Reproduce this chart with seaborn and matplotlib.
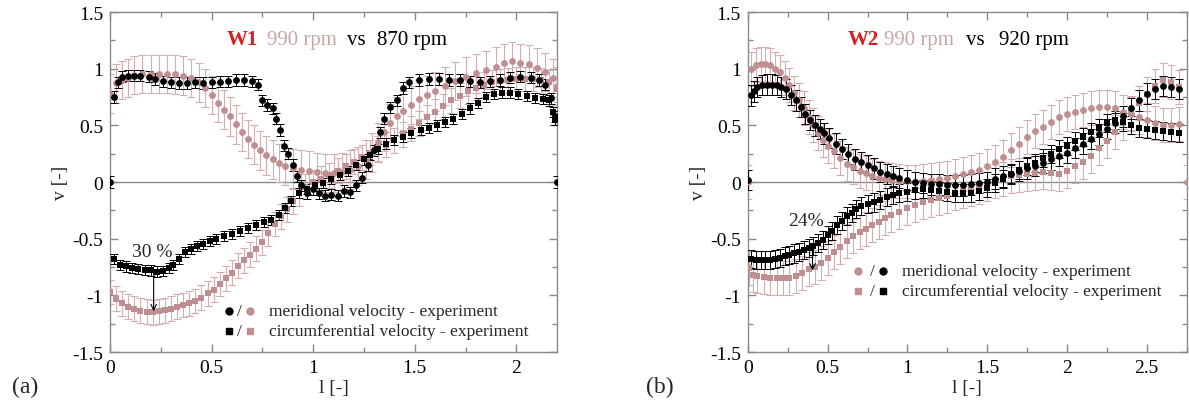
import numpy as np
import pandas as pd
import matplotlib
matplotlib.use("Agg")
import matplotlib.pyplot as plt
import seaborn as sns
from matplotlib.ticker import MultipleLocator, FixedLocator, FixedFormatter

sns.set_style("ticks")
plt.rcParams['font.family'] = ['Liberation Serif', 'DejaVu Serif']
plt.rcParams['axes.unicode_minus'] = False

# ---------------- W1 panel (a): 990 rpm (pink) vs 870 rpm (black) ----------------
w1_blk_mer_x = [0, 0.02, 0.04, 0.06, 0.09, 0.12, 0.15, 0.19, 0.22, 0.26, 0.30, 0.34, 0.38, 0.42, 0.46, 0.50,
                0.54, 0.58, 0.62, 0.66, 0.70, 0.73, 0.75, 0.775, 0.80, 0.815, 0.835, 0.855, 0.875, 0.90, 0.92,
                0.94, 0.97, 1.00, 1.03, 1.06, 1.09, 1.12, 1.15, 1.18, 1.21, 1.24, 1.27, 1.30, 1.33, 1.35, 1.38,
                1.41, 1.44, 1.47, 1.52, 1.57, 1.62, 1.67, 1.72, 1.77, 1.82, 1.87, 1.92, 1.97, 2.02, 2.07, 2.11,
                2.14, 2.17, 2.19, 2.2]
w1_blk_mer_y = [0, 0.75, 0.88, 0.93, 0.94, 0.94, 0.94, 0.93, 0.91, 0.89, 0.88, 0.875, 0.875, 0.88, 0.875, 0.88,
                0.885, 0.89, 0.9, 0.9, 0.89, 0.86, 0.72, 0.68, 0.65, 0.56, 0.46, 0.32, 0.25, 0.15, 0.05,
                -0.03, -0.1, -0.06, -0.1, -0.12, -0.11, -0.12, -0.08, -0.09, -0.03, 0.04, 0.15, 0.28, 0.44, 0.56, 0.66,
                0.72, 0.83, 0.88, 0.9, 0.91, 0.91, 0.9, 0.9, 0.89, 0.88, 0.89, 0.9, 0.92, 0.93, 0.92, 0.9,
                0.86, 0.74, 0.58, 0]

w1_blk_cir_x = [0.02, 0.05, 0.08, 0.11, 0.14, 0.17, 0.2, 0.23, 0.26, 0.29, 0.31, 0.34, 0.37, 0.40, 0.43, 0.46,
                0.49, 0.52, 0.56, 0.60, 0.64, 0.68, 0.72, 0.76, 0.79, 0.83, 0.86, 0.89, 0.93, 0.97, 1.01, 1.05,
                1.09, 1.13, 1.17, 1.21, 1.25, 1.28, 1.32, 1.36, 1.40, 1.44, 1.48, 1.53, 1.57, 1.61, 1.65, 1.69,
                1.73, 1.77, 1.81, 1.85, 1.89, 1.93, 1.97, 2.01, 2.05, 2.09, 2.13, 2.16, 2.18, 2.19]
w1_blk_cir_y = [-0.68, -0.735, -0.745, -0.755, -0.765, -0.775, -0.78, -0.79, -0.785, -0.76, -0.735, -0.68, -0.62,
                -0.59, -0.565, -0.545, -0.52, -0.5, -0.475, -0.46, -0.435, -0.405, -0.38, -0.355, -0.335, -0.29,
                -0.23, -0.17, -0.1, -0.06, -0.03, -0.01, 0.03, 0.06, 0.1, 0.15, 0.2, 0.24, 0.29, 0.34, 0.37, 0.40,
                0.43, 0.46, 0.48, 0.5, 0.53, 0.56, 0.6, 0.65, 0.7, 0.75, 0.78, 0.79, 0.79, 0.78, 0.76, 0.74, 0.73,
                0.72, 0.62, 0.55]

w1_pnk_mer_x = [0, 0.03, 0.06, 0.09, 0.12, 0.16, 0.2, 0.24, 0.28, 0.32, 0.36, 0.4, 0.44, 0.47, 0.5, 0.53, 0.56,
                0.59, 0.62, 0.65, 0.68, 0.71, 0.74, 0.77, 0.8, 0.83, 0.86, 0.9, 0.94, 0.98, 1.02, 1.06, 1.10,
                1.14, 1.18, 1.22, 1.26, 1.29, 1.32, 1.35, 1.38, 1.41, 1.44, 1.48, 1.52, 1.56, 1.6, 1.65, 1.7,
                1.75, 1.8, 1.85, 1.9, 1.94, 1.98, 2.02, 2.06, 2.1, 2.14, 2.18, 2.2]
w1_pnk_mer_y = [0.78, 0.87, 0.9, 0.92, 0.945, 0.955, 0.955, 0.955, 0.955, 0.95, 0.94, 0.92, 0.88, 0.83, 0.77,
                0.7, 0.64, 0.58, 0.51, 0.44, 0.38, 0.33, 0.28, 0.235, 0.2, 0.17, 0.14, 0.12, 0.11, 0.1, 0.09,
                0.08, 0.08, 0.09, 0.11, 0.14, 0.2, 0.26, 0.35, 0.44, 0.52, 0.58, 0.63, 0.68, 0.73, 0.77, 0.8,
                0.85, 0.89, 0.93, 0.96, 0.99, 1.02, 1.05, 1.07, 1.05, 1.04, 1.01, 0.97, 0.92, 0.85]

w1_pnk_cir_x = [0, 0.03, 0.06, 0.09, 0.12, 0.15, 0.18, 0.21, 0.24, 0.27, 0.3, 0.33, 0.36, 0.39, 0.42, 0.45,
                0.48, 0.51, 0.54, 0.57, 0.6, 0.63, 0.66, 0.69, 0.72, 0.75, 0.78, 0.81, 0.84, 0.87, 0.9, 0.93,
                0.96, 1.0, 1.04, 1.08, 1.12, 1.16, 1.2, 1.24, 1.28, 1.32, 1.36, 1.4, 1.44, 1.48, 1.52, 1.56,
                1.6, 1.64, 1.68, 1.72, 1.76, 1.8, 1.84, 1.88, 1.92, 1.96, 2.0, 2.04, 2.08, 2.12, 2.16, 2.2]
w1_pnk_cir_y = [-0.97, -1.03, -1.07, -1.1, -1.12, -1.135, -1.145, -1.15, -1.14, -1.13, -1.12, -1.1, -1.085,
                -1.07, -1.05, -1.02, -0.98, -0.95, -0.9, -0.85, -0.8, -0.74, -0.69, -0.64, -0.59, -0.53, -0.45,
                -0.37, -0.3, -0.24, -0.17, -0.1, -0.04, 0.0, 0.03, 0.06, 0.1, 0.14, 0.18, 0.22, 0.26, 0.3,
                0.33, 0.37, 0.42, 0.47, 0.52, 0.57, 0.62, 0.67, 0.72, 0.76, 0.8, 0.83, 0.86, 0.88, 0.89, 0.9,
                0.91, 0.91, 0.91, 0.9, 0.88, 0.82]

w1_err = {"pnk_mer": 0.17, "pnk_cir": 0.11, "blk_mer": 0.05, "blk_cir": 0.045}

# ---------------- W2 panel (b): 990 rpm (pink) vs 920 rpm (black) ----------------
w2_pnk_mer_x = [0, 0.02, 0.05, 0.08, 0.11, 0.14, 0.17, 0.2, 0.23, 0.26, 0.29, 0.32, 0.35, 0.38, 0.41, 0.44,
                0.47, 0.5, 0.54, 0.58, 0.62, 0.66, 0.7, 0.74, 0.78, 0.82, 0.86, 0.9, 0.95, 1.0, 1.05, 1.1,
                1.15, 1.2, 1.25, 1.3, 1.35, 1.4, 1.45, 1.5, 1.55, 1.6, 1.65, 1.7, 1.75, 1.8, 1.85, 1.9, 1.95,
                2.0, 2.05, 2.1, 2.15, 2.2, 2.25, 2.3, 2.35, 2.4, 2.45, 2.5, 2.55, 2.6, 2.65, 2.7, 2.75]
w2_pnk_mer_y = [0, 1.0, 1.03, 1.04, 1.045, 1.03, 1.0, 0.97, 0.92, 0.86, 0.79, 0.72, 0.65, 0.57, 0.5, 0.43,
                0.37, 0.32, 0.27, 0.21, 0.16, 0.13, 0.1, 0.08, 0.05, 0.04, 0.03, 0.02, 0.01, 0.005, 0.0, 0.01,
                0.02, 0.03, 0.04, 0.05, 0.07, 0.09, 0.11, 0.14, 0.18, 0.22, 0.28, 0.34, 0.4, 0.45, 0.49, 0.53,
                0.57, 0.6, 0.62, 0.64, 0.65, 0.66, 0.66, 0.65, 0.62, 0.6, 0.57, 0.55, 0.52, 0.5, 0.5, 0.51, 0]

w2_pnk_cir_x = [0.01, 0.03, 0.06, 0.1, 0.14, 0.18, 0.22, 0.26, 0.3, 0.34, 0.38, 0.42, 0.46, 0.5, 0.54, 0.58,
                0.62, 0.66, 0.7, 0.74, 0.78, 0.82, 0.86, 0.9, 0.95, 1.0, 1.05, 1.1, 1.15, 1.2, 1.25, 1.3, 1.35,
                1.4, 1.45, 1.5, 1.55, 1.6, 1.65, 1.7, 1.75, 1.8, 1.85, 1.9, 1.95, 2.0, 2.05, 2.1, 2.15, 2.2,
                2.25, 2.3, 2.35, 2.4, 2.45, 2.5, 2.55, 2.6, 2.65, 2.7]
w2_pnk_cir_y = [-0.76, -0.82, -0.83, -0.84, -0.845, -0.85, -0.85, -0.845, -0.83, -0.8, -0.77, -0.75, -0.71,
                -0.67, -0.62, -0.57, -0.52, -0.48, -0.44, -0.41, -0.38, -0.35, -0.32, -0.29, -0.26, -0.23, -0.2,
                -0.18, -0.16, -0.14, -0.12, -0.1, -0.08, -0.06, -0.04, -0.02, 0.01, 0.03, 0.05, 0.06, 0.07,
                0.08, 0.09, 0.08, 0.07, 0.1, 0.14, 0.18, 0.23, 0.3, 0.36, 0.44, 0.52, 0.61, 0.7, 0.78, 0.85,
                0.9, 0.88, 0.84]

w2_blk_mer_x = [0, 0.02, 0.04, 0.06, 0.09, 0.12, 0.15, 0.18, 0.21, 0.24, 0.27, 0.3, 0.33, 0.36, 0.39, 0.42,
                0.45, 0.48, 0.51, 0.55, 0.59, 0.63, 0.67, 0.71, 0.75, 0.79, 0.83, 0.87, 0.91, 0.95, 1.0, 1.05,
                1.1, 1.15, 1.2, 1.25, 1.3, 1.35, 1.4, 1.45, 1.5, 1.55, 1.6, 1.65, 1.7, 1.75, 1.8, 1.85, 1.9,
                1.95, 2.0, 2.05, 2.1, 2.15, 2.2, 2.25, 2.3, 2.35, 2.4, 2.45, 2.5, 2.55, 2.6, 2.65, 2.7]
w2_blk_mer_y = [0.02, 0.765, 0.8, 0.84, 0.855, 0.86, 0.86, 0.855, 0.84, 0.82, 0.77, 0.72, 0.66, 0.6, 0.55, 0.5,
                0.47, 0.43, 0.39, 0.34, 0.29, 0.25, 0.2, 0.175, 0.15, 0.12, 0.09, 0.07, 0.05, 0.035, 0.02, 0.0,
                -0.01, -0.02, -0.02, -0.03, -0.03, -0.03, -0.02, -0.01, 0.0, 0.03, 0.05, 0.07, 0.1, 0.12, 0.14,
                0.17, 0.2, 0.23, 0.26, 0.3, 0.34, 0.38, 0.42, 0.47, 0.52, 0.58, 0.65, 0.72, 0.78, 0.82, 0.85,
                0.84, 0.82]

w2_blk_cir_x = [0.02, 0.05, 0.08, 0.11, 0.14, 0.17, 0.2, 0.23, 0.26, 0.29, 0.32, 0.35, 0.38, 0.41, 0.44, 0.47,
                0.5, 0.53, 0.56, 0.59, 0.62, 0.65, 0.68, 0.71, 0.75, 0.79, 0.83, 0.87, 0.91, 0.95, 1.0, 1.05,
                1.1, 1.15, 1.2, 1.25, 1.3, 1.35, 1.4, 1.45, 1.5, 1.55, 1.6, 1.65, 1.7, 1.75, 1.8, 1.85, 1.9,
                1.95, 2.0, 2.05, 2.1, 2.15, 2.2, 2.25, 2.3, 2.35, 2.4, 2.45, 2.5, 2.55, 2.6, 2.65, 2.7]
w2_blk_cir_y = [-0.68, -0.685, -0.69, -0.69, -0.685, -0.68, -0.67, -0.655, -0.64, -0.63, -0.615, -0.6, -0.585,
                -0.565, -0.54, -0.51, -0.47, -0.43, -0.38, -0.34, -0.3, -0.27, -0.24, -0.21, -0.195, -0.18,
                -0.155, -0.13, -0.115, -0.1, -0.09, -0.07, -0.065, -0.07, -0.08, -0.09, -0.1, -0.1, -0.1, -0.08,
                -0.05, -0.01, 0.03, 0.07, 0.11, 0.14, 0.17, 0.21, 0.25, 0.29, 0.32, 0.36, 0.4, 0.44, 0.48, 0.52,
                0.55, 0.53, 0.5, 0.48, 0.47, 0.46, 0.45, 0.44, 0.43]

w2_err = {"pnk_mer": 0.15, "pnk_cir": 0.15, "blk_mer": 0.09, "blk_cir": 0.08}

y_ticks = [1.5, 1, 0.5, 0, -0.5, -1, -1.5]
y_tick_labels = ["1.5", "1", "0.5", "0", "-0.5", "-1", "-1.5"]
x_ticks_a = [0, 0.5, 1, 1.5, 2]
x_tick_labels_a = ["0", "0.5", "1", "1.5", "2"]
x_ticks_b = [0, 0.5, 1, 1.5, 2, 2.5]
x_tick_labels_b = ["0", "0.5", "1", "1.5", "2", "2.5"]

PINK = "#bf8e8e"
PINK_ERR = "#d3aeae"
BLACK = "#000000"
TITLE_PINK = "#c8a6a6"
RED = "#d81e1e"
SPINE = "#8a8a8a"
FS = 14
LFS = 12.5


def make_df(x, y, err):
    return pd.DataFrame({"l": x, "v": y, "err": err})


fig = plt.figure(figsize=(11.89, 4.10), dpi=100)
axA = fig.add_axes([0.0925, 0.139, 0.376, 0.829])
axB = fig.add_axes([0.629, 0.139, 0.369, 0.829])


def draw_panel(ax, pink_mer, pink_cir, blk_mer, blk_cir, xmax, xt, xtl):
    ax.axhline(0, color=SPINE, lw=1.0, zorder=1)
    for df in [pink_mer, pink_cir]:
        ax.errorbar(df["l"], df["v"], yerr=df["err"], fmt='none', ecolor=PINK_ERR, elinewidth=0.8,
                    capsize=3, capthick=0.8, zorder=2)
    for df in [blk_mer, blk_cir]:
        ax.errorbar(df["l"], df["v"], yerr=df["err"], fmt='none', ecolor=BLACK, elinewidth=0.7,
                    capsize=3, capthick=0.7, zorder=3)
    sns.scatterplot(data=pink_mer, x="l", y="v", ax=ax, color=PINK, marker="o", s=24,
                    linewidth=0, zorder=4, legend=False)
    sns.scatterplot(data=pink_cir, x="l", y="v", ax=ax, color=PINK, marker="s", s=18,
                    linewidth=0, zorder=4, legend=False)
    sns.scatterplot(data=blk_mer, x="l", y="v", ax=ax, color=BLACK, marker="o", s=24,
                    linewidth=0, zorder=5, legend=False)
    sns.scatterplot(data=blk_cir, x="l", y="v", ax=ax, color=BLACK, marker="s", s=18,
                    linewidth=0, zorder=5, legend=False)
    ax.set_xlim(0, xmax)
    ax.set_ylim(-1.5, 1.5)
    ax.xaxis.set_major_locator(FixedLocator(xt))
    ax.xaxis.set_major_formatter(FixedFormatter(xtl))
    ax.xaxis.set_minor_locator(MultipleLocator(0.25))
    ax.yaxis.set_major_locator(FixedLocator(y_ticks))
    ax.yaxis.set_major_formatter(FixedFormatter(y_tick_labels))
    ax.yaxis.set_minor_locator(MultipleLocator(0.25))
    ax.tick_params(which='both', direction='in', top=True, right=True, color=SPINE,
                   labelsize=FS, labelcolor='black')
    ax.tick_params(which='major', length=6, width=1, pad=5)
    ax.tick_params(which='minor', length=3.5, width=1)
    for sp in ax.spines.values():
        sp.set_color(SPINE)
        sp.set_linewidth(1.0)
        sp.set_visible(True)
    ax.set_xlabel("l [-]", fontsize=FS, labelpad=2)
    ax.set_ylabel("v [-]", fontsize=FS, labelpad=2)


A_pm = make_df(w1_pnk_mer_x, w1_pnk_mer_y, w1_err["pnk_mer"])
A_pc = make_df(w1_pnk_cir_x, w1_pnk_cir_y, w1_err["pnk_cir"])
A_bm = make_df(w1_blk_mer_x, w1_blk_mer_y, w1_err["blk_mer"])
A_bc = make_df(w1_blk_cir_x, w1_blk_cir_y, w1_err["blk_cir"])
draw_panel(axA, A_pm, A_pc, A_bm, A_bc, 2.2, x_ticks_a, x_tick_labels_a)

B_pm = make_df(w2_pnk_mer_x, w2_pnk_mer_y, w2_err["pnk_mer"])
B_pc = make_df(w2_pnk_cir_x, w2_pnk_cir_y, w2_err["pnk_cir"])
B_bm = make_df(w2_blk_mer_x, w2_blk_mer_y, w2_err["blk_mer"])
B_bc = make_df(w2_blk_cir_x, w2_blk_cir_y, w2_err["blk_cir"])
draw_panel(axB, B_pm, B_pc, B_bm, B_bc, 2.75, x_ticks_b, x_tick_labels_b)

# titles (multi-coloured)
for ax, parts in [(axA, [("W1", RED, "bold", 0.262), ("990 rpm", TITLE_PINK, "normal", 0.351),
                         ("vs", BLACK, "normal", 0.530), ("870 rpm", BLACK, "normal", 0.597)]),
                  (axB, [("W2", RED, "bold", 0.227), ("990 rpm", TITLE_PINK, "normal", 0.311),
                         ("vs", BLACK, "normal", 0.498), ("920 rpm", BLACK, "normal", 0.573)])]:
    for txt, col, wt, xx in parts:
        ax.text(xx, 0.92, txt, transform=ax.transAxes, color=col, fontweight=wt,
                fontsize=FS + 1, ha='left', va='center')

# manual legends
def legend_row(ax, y, first, second, marker, label, xs):
    ms = 5 if marker == "o" else 4.5
    ax.plot([xs[0]], [y], marker=marker, color=first, ms=ms, ls='none', transform=ax.transAxes,
            clip_on=False, zorder=6)
    ax.text(xs[1], y, "/", transform=ax.transAxes, fontsize=LFS, ha='center', va='center')
    ax.plot([xs[2]], [y], marker=marker, color=second, ms=ms, ls='none', transform=ax.transAxes,
            clip_on=False, zorder=6)
    ax.text(xs[3], y, label, transform=ax.transAxes, fontsize=LFS, ha='left', va='center')

legend_row(axA, 0.121, BLACK, PINK, "o", "meridional velocity - experiment", (0.266, 0.29, 0.313, 0.355))
legend_row(axA, 0.062, BLACK, PINK, "s", "circumferential velocity - experiment", (0.266, 0.29, 0.313, 0.355))
legend_row(axB, 0.238, PINK, BLACK, "o", "meridional velocity - experiment", (0.25, 0.284, 0.307, 0.352))
legend_row(axB, 0.179, PINK, BLACK, "s", "circumferential velocity - experiment", (0.25, 0.284, 0.307, 0.352))

# annotations
axA.annotate("", xy=(0.215, -1.14), xytext=(0.215, -0.79),
             arrowprops=dict(arrowstyle="->", color="black", lw=0.8, shrinkA=0, shrinkB=0), zorder=7)
axA.text(0.21, -0.61, "30 %", fontsize=FS, ha='center', va='center', zorder=7)
axB.annotate("", xy=(0.405, -0.78), xytext=(0.405, -0.57),
             arrowprops=dict(arrowstyle="->", color="black", lw=0.8, shrinkA=0, shrinkB=0), zorder=7)
axB.text(0.365, -0.34, "24%", fontsize=FS, ha='center', va='center', zorder=7)

fig.text(25 / 1189, 1 - 387 / 410, "(a)", fontsize=17, ha='center', va='center')
fig.text(660 / 1189, 1 - 387 / 410, "(b)", fontsize=17, ha='center', va='center')

fig.savefig("out.png", dpi=100)
